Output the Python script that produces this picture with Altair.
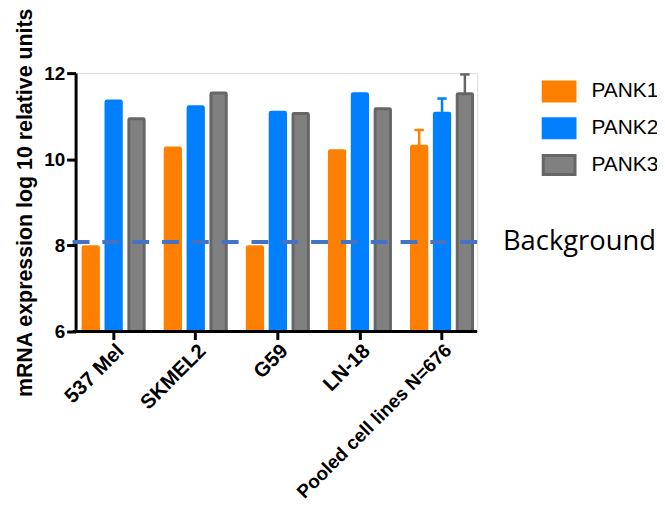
import altair as alt
import pandas as pd

cell_lines = ["537 Mel", "SKMEL2", "G59", "LN-18", "Pooled cell lines N=676"]
genes = ["PANK1", "PANK2", "PANK3"]
pank1 = [7.97, 10.26, 7.97, 10.20, 10.30]
pank2 = [11.35, 11.22, 11.09, 11.52, 11.07]
pank3 = [10.94, 11.54, 11.06, 11.17, 11.52]
pooled_err_hi = [10.68, 11.41, 11.97]
background = 8.08

fills = ["#FF8000", "#0080FF", "#808080"]
strokes = ["#FF8000", "#0080FF", "#666666"]

rows = []
for i, c in enumerate(cell_lines):
    for g, vals in zip(genes, [pank1, pank2, pank3]):
        rows.append({"cell": c, "gene": g, "value": vals[i]})
df = pd.DataFrame(rows)

err = pd.DataFrame({
    "cell": [cell_lines[-1]] * 3,
    "gene": genes,
    "value": [pank1[-1], pank2[-1], pank3[-1]],
    "hi": pooled_err_hi,
})
bg = pd.DataFrame({"y": [background], "label": ["Background"]})

FONT = "Liberation Sans"

x_enc = alt.X("cell:N", sort=cell_lines, title=None,
              scale=alt.Scale(range=[-3, 410], paddingInner=0, paddingOuter=0),
              axis=alt.Axis(labelAngle=-45,
                            labelFontSize={"condition": {"test": "length(datum.label) > 10", "value": 19},
                                           "value": 20.5},
                            labelFontWeight="bold",
                            labelFont=FONT, labelColor="black", tickSize=8, tickWidth=3,
                            tickColor="black", domain=False, labelPadding=1,
                            labelLimit=400))
xo_enc = alt.XOffset("gene:N", sort=genes,
                     scale=alt.Scale(paddingInner=0.33, paddingOuter=0.46))
y_scale = alt.Scale(domain=[6, 12], nice=False, zero=False)
y_enc = alt.Y("value:Q", scale=y_scale,
              title="mRNA  expression log 10 relative units",
              axis=alt.Axis(values=[6, 8, 10, 12], labelFontSize=19, labelFontWeight="bold",
                            labelFont=FONT, labelColor="black", tickSize=9, tickWidth=3,
                            tickColor="black", domainWidth=3, domainColor="black",
                            grid=False, titleFont=FONT, titleFontSize=21.5,
                            titleFontWeight="bold", titleColor="black", titlePadding=7,
                            labelPadding=2))

legend = alt.Legend(title=None, orient="none", legendX=469, legendY=1,
                    symbolType="M-1,-0.6L1,-0.6L1,0.6L-1,0.6Z", symbolSize=1024,
                    symbolStrokeWidth=3, labelFontSize=21, labelFont=FONT,
                    labelColor="black", labelOffset=15, rowPadding=3, padding=0)

bars = alt.Chart(df).mark_bar(strokeWidth=3, cornerRadiusTopLeft=1,
                              cornerRadiusTopRight=1).encode(
    x=x_enc, xOffset=xo_enc, y=y_enc, y2=alt.datum(6),
    fill=alt.Fill("gene:N", sort=genes, scale=alt.Scale(domain=genes, range=fills), legend=legend),
    stroke=alt.Stroke("gene:N", sort=genes, scale=alt.Scale(domain=genes, range=strokes), legend=legend),
)

err_rule = alt.Chart(err).mark_rule(strokeWidth=2.5).encode(
    x=alt.X("cell:N", sort=cell_lines), xOffset=alt.XOffset("gene:N", sort=genes),
    y=alt.Y("value:Q"), y2="hi:Q",
    stroke=alt.Stroke("gene:N", sort=genes),
)
err_cap = alt.Chart(err).mark_point(shape="M-1,0L1,0", size=90, strokeWidth=2.5,
                                    filled=False, opacity=1).encode(
    x=alt.X("cell:N", sort=cell_lines), xOffset=alt.XOffset("gene:N", sort=genes),
    y=alt.Y("hi:Q"),
    stroke=alt.Stroke("gene:N", sort=genes),
)

bg_line = alt.Chart(bg).mark_rule(color="#4472C4", strokeWidth=4,
                                  strokeDash=[17, 13]).encode(
    y=alt.Y("y:Q", scale=y_scale), x=alt.value(-3), x2=alt.value(404))
bg_text = alt.Chart(bg).mark_text(align="left", baseline="middle", font="Open Sans",
                                  fontSize=27.5, color="black").encode(
    y=alt.Y("y:Q", scale=y_scale), x=alt.value(430), text="label:N")

x_axis_line = alt.Chart(bg).mark_rule(color="black", strokeWidth=3).encode(
    y=alt.datum(6), x=alt.value(-3), x2=alt.value(404))

chart = alt.layer(bars, err_rule, err_cap, bg_line, x_axis_line, bg_text).properties(
    width=404, height=260,
    autosize=alt.AutoSizeParams(type="none"),
    padding={"left": 68, "top": 64, "right": 181, "bottom": 169},
).configure_view(stroke=None).configure(background="white")

chart.save("out.html", embed_options={"renderer": "svg", "actions": False})
